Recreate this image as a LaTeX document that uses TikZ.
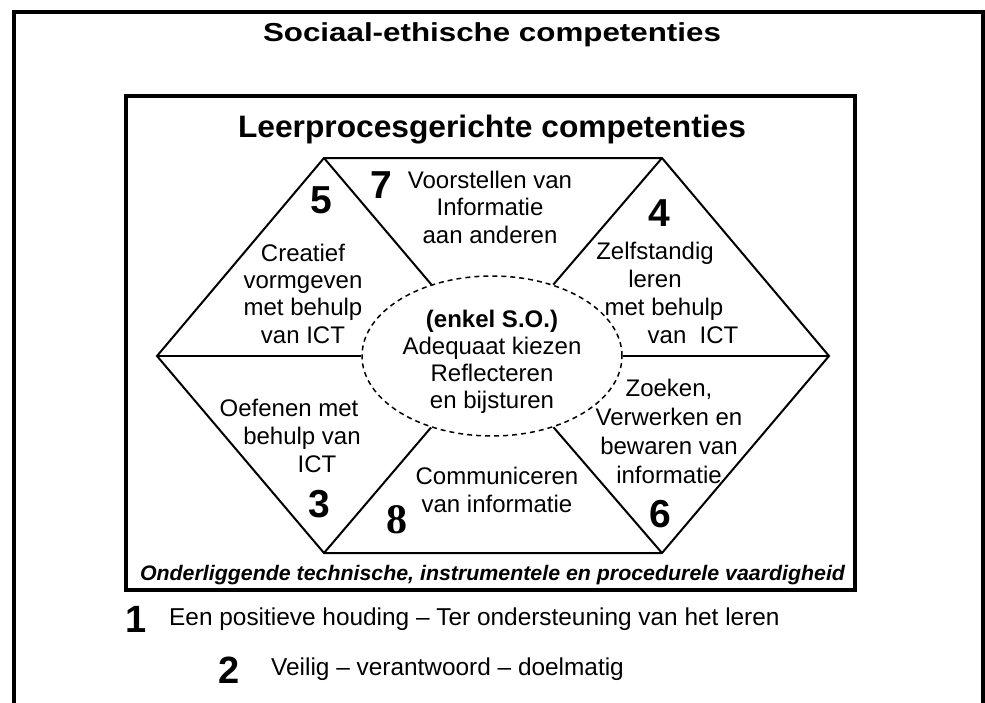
\documentclass[tikz,border=0pt]{standalone}
\usepackage{fontspec}
\setmainfont{Liberation Sans}
\newfontfamily\serifnum{Liberation Serif}
\usetikzlibrary{shapes.geometric}
\newlength\fitwlen
\newcommand\fitwidth[2]{\settowidth{\fitwlen}{#2}\pgfmathsetmacro\fitwfac{#1/\fitwlen}\scalebox{\fitwfac}[1]{#2}}
\begin{document}
\begin{tikzpicture}[x=1pt,y=-1pt,
  txt/.style={anchor=base, align=center, inner sep=0pt, font=\fontsize{24}{27.5}\selectfont},
  num/.style={anchor=base, inner sep=0pt, font=\fontsize{39}{39}\selectfont\bfseries},
  hexline/.style={line width=2pt, line join=miter},
  frame/.style={line width=4pt},
]
\useasboundingbox (0,0) rectangle (985,702);
\fill[white] (0,0) rectangle (985,702);
% outer frame (open at the bottom)
\draw[frame] (13.5,705) -- (13.5,12) -- (982.5,12) -- (982.5,705);
\node[anchor=base, inner sep=0pt] (title) at (492,41)
  {\fitwidth{458}{\fontsize{26}{26}\selectfont\bfseries Sociaal-ethische competenties}};
% inner frame
\draw[line width=3.5pt] (126,96) rectangle (855,590);
\node[anchor=base, inner sep=0pt] (sub) at (492,137)
  {\fitwidth{508}{\fontsize{31}{31}\selectfont\bfseries Leerprocesgerichte competenties}};
% hexagon
\coordinate (tl) at (324,158);
\coordinate (tr) at (662,158);
\coordinate (l) at (157,356);
\coordinate (r) at (829,356);
\coordinate (bl) at (324,553);
\coordinate (br) at (662,553);
\draw[hexline] (tl) -- (tr) -- (r) -- (br) -- (bl) -- (l) -- cycle;
\node[ellipse, draw, line width=1.5pt, dash pattern=on 5pt off 4pt,
  minimum width=260pt, minimum height=160pt, inner sep=0pt] (ell) at (492,356) {};
\draw[hexline] (tl) -- (ell);
\draw[hexline] (tr) -- (ell);
\draw[hexline] (l) -- (ell);
\draw[hexline] (r) -- (ell);
\draw[hexline] (bl) -- (ell);
\draw[hexline] (br) -- (ell);
% numbers
\node[num] (n5) at (321,213) {5};
\node[num] (n7) at (381,198) {7};
\node[num] (n4) at (659,226) {4};
\node[num] (n3) at (319,517) {3};
\node[num, font=\fontsize{42}{42}\selectfont\serifnum\bfseries] (n8) at (397,533) {8};
\node[num] (n6) at (660,527) {6};
% texts (anchor base = baseline of the last line)
\node[txt, font=\fontsize{24}{27.3}\selectfont] (t5) at (303,343) {Creatief\\vormgeven\\met behulp\\van ICT};
\node[txt, font=\fontsize{24}{27.5}\selectfont] (t7) at (490,243) {Voorstellen van\\Informatie\\aan anderen};
\node[txt, font=\fontsize{24}{27.7}\selectfont] (t4) at (655,343)
  {Zelfstandig\\leren\\\hspace*{18pt}met behulp\\\hspace*{76pt}van\ \ ICT};
\node[txt, font=\fontsize{24}{26.7}\selectfont] (tc) at (492,408)
  {\textbf{(enkel S.O.)}\\Adequaat kiezen\\Reflecteren\\en bijsturen};
\node[txt, font=\fontsize{24}{28}\selectfont] (t3) at (302,472)
  {Oefenen met\hspace*{26pt}\\behulp van\\\hspace*{30pt}ICT};
\node[txt, font=\fontsize{24}{27.5}\selectfont] (t8) at (497,512) {Communiceren\\van informatie};
\node[txt, font=\fontsize{24}{29}\selectfont] (t6) at (669,483)
  {Zoeken,\\Verwerken en\\bewaren van\\informatie};
% base line of the inner frame
\node[anchor=base, inner sep=0pt] (basis) at (492.5,580)
  {\fitwidth{705}{\fontsize{21}{21}\selectfont\bfseries\itshape Onderliggende technische, instrumentele en procedurele vaardigheid}};
% bottom legend
\node[num, font=\fontsize{38}{38}\selectfont\bfseries] (n1) at (136.5,632) {1};
\node[anchor=base west, inner sep=0pt, font=\fontsize{24.4}{24.4}\selectfont] (l1) at (169,625)
  {Een positieve houding – Ter ondersteuning van het leren};
\node[num, font=\fontsize{38}{38}\selectfont\bfseries] (n2) at (229,683) {2};
\node[anchor=base west, inner sep=0pt, font=\fontsize{24.4}{24.4}\selectfont] (l2) at (271,675)
  {Veilig – verantwoord – doelmatig};
\end{tikzpicture}
\end{document}
